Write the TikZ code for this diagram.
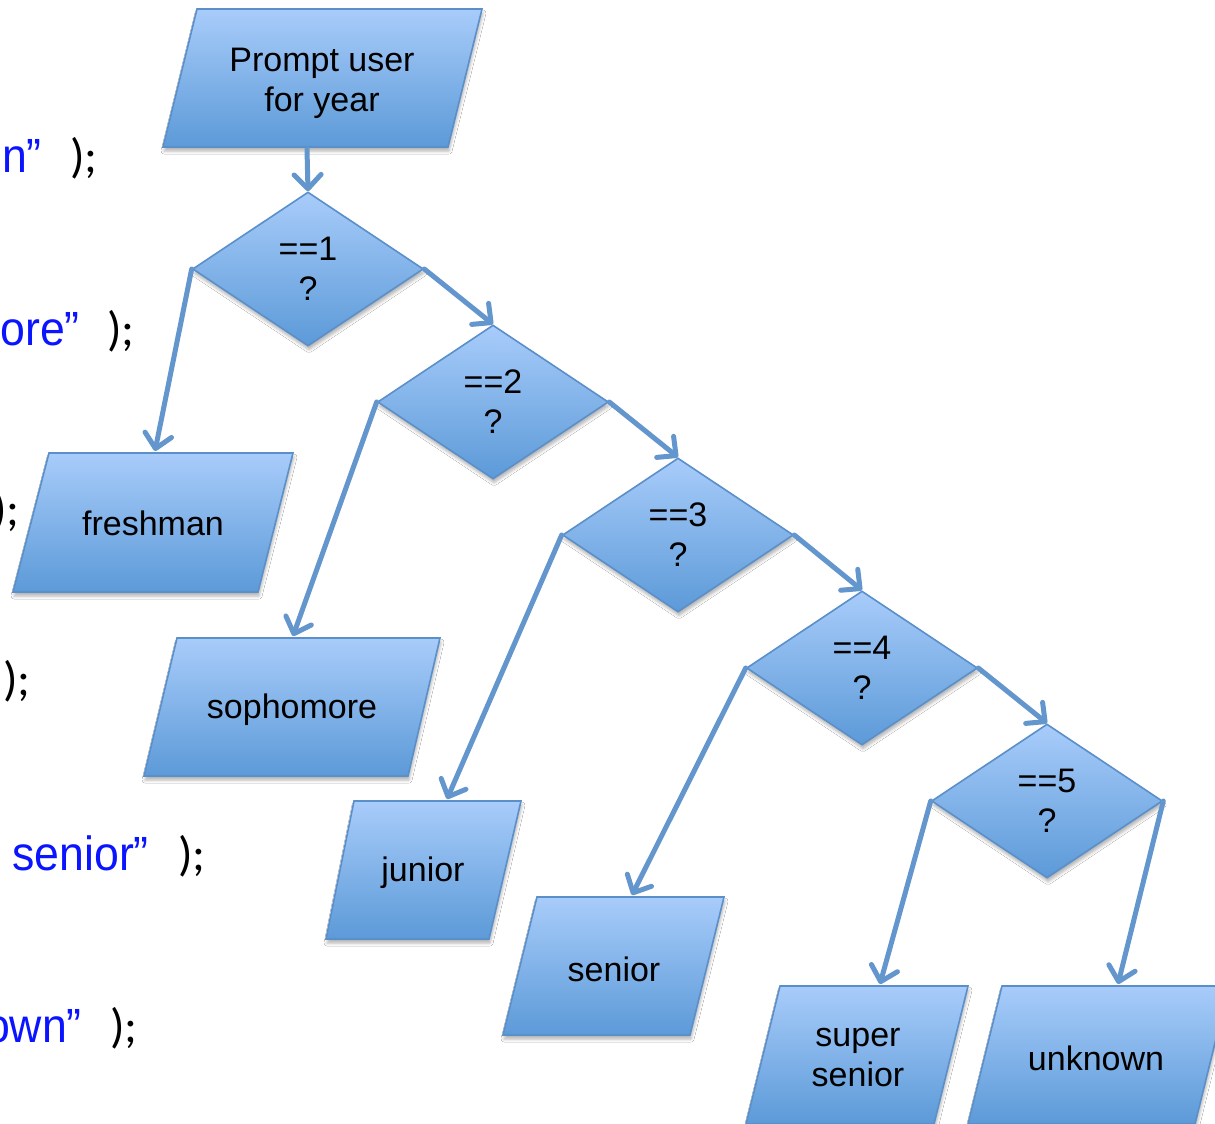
\documentclass[tikz,border=0pt]{standalone}
\usepackage{fontspec}
\setmainfont{Liberation Sans}
\newfontfamily\codefont[FakeStretch=0.93]{Liberation Sans}
\newfontfamily\punctfont{Carlito}
\usetikzlibrary{shapes.geometric,arrows.meta,shadows.blur}

\definecolor{fillhi}{HTML}{A8CCFA}
\definecolor{filllo}{HTML}{5C9AD8}
\definecolor{edgec}{HTML}{5A8FC9}
\definecolor{linkc}{HTML}{6396CD}
\definecolor{codeblue}{HTML}{0A14FF}

\begin{document}
\begin{tikzpicture}[x=1pt,y=-1pt,
  shapebase/.style={draw=edgec, line width=1.6pt, top color=fillhi, bottom color=filllo,
    blur shadow={shadow xshift=1pt, shadow yshift=-4pt, shadow blur radius=3pt, shadow opacity=30}},
  decision/.style={shapebase, shape=diamond, minimum width=231pt, minimum height=154pt,
    inner sep=0pt, align=center, font=\fontsize{34}{40}\selectfont},
  iobox/.style={shapebase, line join=miter},
  boxtext/.style={align=center, inner sep=0pt, font=\fontsize{34}{40}\selectfont},
  link/.style={draw=linkc, line width=5pt, line cap=round,
    -{Straight Barb[length=14pt,width=27pt,line cap=round,line join=round]}},
  codeword/.style={inner sep=0pt, text=codeblue, font=\codefont\fontsize{48}{56}\selectfont},
  codepunct/.style={inner sep=0pt, text=black, font=\punctfont\fontsize{48}{56}\selectfont},
]
\useasboundingbox (0,0) rectangle (1215,1124);
\clip (0,0) rectangle (1215,1124);
\fill[white] (0,0) rectangle (1215,1124);

% trailing ends of the print statements on the left
\node[codeword, anchor=base east] (w1) at (42,172) {n”};
\node[codepunct, anchor=base west] (p1) at (70,172) {);};
\node[codeword, anchor=base east] (w2) at (80,345) {ore”};
\node[codepunct, anchor=base west] (p2) at (107,345) {);};
\node[codepunct, anchor=base east] (p3) at (20,525) {);};
\node[codepunct, anchor=base east] (p4) at (31,695) {);};
\node[codeword, anchor=base east] (w5) at (149,870) {senior”};
\node[codepunct, anchor=base west] (p5) at (178,870) {);};
\node[codeword, anchor=base east] (w6) at (82,1042) {own”};
\node[codepunct, anchor=base west] (p6) at (110,1042) {);};

% input / output parallelograms
\path[iobox] (197,9) -- (482,9) -- (448,147) -- (163,147) -- cycle;
\node[boxtext] (prompt) at (322,83) {Prompt user\\for year};
\coordinate (promptOut) at (307,149);

\path[iobox] (49,453) -- (293,453) -- (258,592) -- (13,592) -- cycle;
\node[boxtext] (fresh) at (153,523) {freshman};
\coordinate (freshIn) at (155,451);

\path[iobox] (177,638) -- (440,638) -- (408,776) -- (144,776) -- cycle;
\node[boxtext] (soph) at (292,710) {sophomore};
\coordinate (sophIn) at (293,636);

\path[iobox] (354,801) -- (521,801) -- (489,939) -- (326,939) -- cycle;
\node[boxtext] (junior) at (423,873) {junior};
\coordinate (juniorIn) at (447,799);

\path[iobox] (537,897) -- (724,897) -- (690,1035) -- (503,1035) -- cycle;
\node[boxtext] (senior) at (614,969) {senior};
\coordinate (seniorIn) at (632,895);

\path[iobox] (780,986) -- (968,986) -- (934,1124) -- (746,1124) -- cycle;
\node[boxtext] (super) at (858,1058) {super\\senior};
\coordinate (superIn) at (880,984);

\path[iobox] (1002,986) -- (1229,986) -- (1195,1124) -- (968,1124) -- cycle;
\node[boxtext] (unknown) at (1096,1058) {unknown};
\coordinate (unknownIn) at (1118,984);

% decision chain
\node[decision] (d1) at (308,269) {==1\\?};
\node[decision] (d2) at (493,402) {==2\\?};
\node[decision] (d3) at (678,535) {==3\\?};
\node[decision] (d4) at (862,668) {==4\\?};
\node[decision] (d5) at (1047,801) {==5\\?};

% connectors
\draw[link] (promptOut) -- (d1.north);
\draw[link] (d1.east) -- (d2.north);
\draw[link] (d2.east) -- (d3.north);
\draw[link] (d3.east) -- (d4.north);
\draw[link] (d4.east) -- (d5.north);
\draw[link] (d1.west) -- (freshIn);
\draw[link] (d2.west) -- (sophIn);
\draw[link] (d3.west) -- (juniorIn);
\draw[link] (d4.west) -- (seniorIn);
\draw[link] (d5.west) -- (superIn);
\draw[link] (d5.east) -- (unknownIn);
\end{tikzpicture}
\end{document}
